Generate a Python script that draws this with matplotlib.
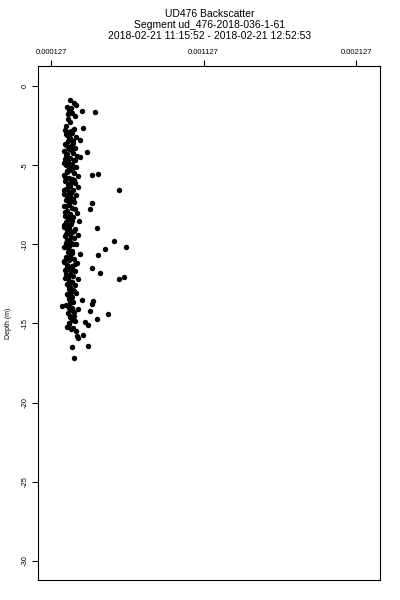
import numpy as np
import matplotlib
matplotlib.use("Agg")
import matplotlib.pyplot as plt

plt.rcParams['font.family'] = ['Liberation Sans', 'DejaVu Sans']

title_lines = ["UD476 Backscatter",
               "Segment ud_476-2018-036-1-61",
               "2018-02-21 11:15:52 - 2018-02-21 12:52:53"]
x_ticks = [0.000127, 0.001127, 0.002127]
x_tick_labels = ["0.000127", "0.001127", "0.002127"]
y_ticks = [0, -5, -10, -15, -20, -25, -30]

# depth (m) and backscatter
depth = [
    -0.9, -1.1, -1.2, -1.3, -1.4, -1.5, -1.6, -1.64, -1.7, -1.8, -1.9, -2.1, -2.3, -2.5, -2.65, -2.7,
    -2.8, -2.9, -3.0, -3.1, -3.2, -3.3, -3.4, -3.5, -3.6, -3.7, -3.8, -3.9, -4.0, -4.1, -4.2, -4.25,
    -4.3, -4.4, -4.5, -4.55, -4.6, -4.7, -4.8, -4.9, -5.0, -5.1, -5.2, -5.3, -5.4, -5.5, -5.55, -5.6,
    -5.65, -5.7, -5.8, -5.9, -6.0, -6.1, -6.2, -6.3, -6.4, -6.5, -6.57, -6.6, -6.7, -6.8, -6.9, -7.0,
    -7.1, -7.2, -7.3, -7.4, -7.5, -7.6, -7.7, -7.8, -7.9, -8.0, -8.1, -8.2, -8.3, -8.4, -8.5, -8.6,
    -8.7, -8.8, -8.9, -9.0, -9.05, -9.1, -9.2, -9.3, -9.4, -9.5, -9.6, -9.7, -9.8, -9.85, -9.9, -10.0,
    -10.1, -10.16, -10.3, -10.2, -10.4, -10.5, -10.6, -10.7, -10.75, -10.8, -10.9, -11.0, -11.1, -11.2,
    -11.3, -11.4, -11.5, -11.55, -11.6, -11.7, -11.8, -11.85, -11.9, -12.0, -12.06, -12.18, -12.1, -12.2,
    -12.3, -12.4, -12.5, -12.6, -12.7, -12.8, -12.9, -13.0, -13.1, -13.2, -13.3, -13.5, -13.6, -13.7,
    -13.8, -13.9, -14.0, -14.05, -14.1, -14.2, -14.3, -14.4, -14.5, -14.6, -14.7, -14.8, -14.9, -15.0,
    -15.1, -15.2, -15.3, -15.5, -15.7, -15.8, -15.9, -16.4, -16.5, -17.2,
    # extra points in the dense column
    -2.85, -3.05, -3.25, -3.45, -3.65, -3.85, -4.05, -4.35, -4.65, -4.85, -5.05, -5.25, -5.45, -5.75,
    -5.95, -6.15, -6.35, -6.55, -6.75, -6.95, -7.15, -7.35, -7.55, -7.75, -7.95, -8.15, -8.35, -8.55,
    -8.75, -8.95, -9.15, -9.35, -9.55, -9.75, -9.95, -10.15, -10.35, -10.55, -10.85, -11.05, -11.25,
    -11.45, -11.65, -11.95, -12.15, -12.35, -12.55, -12.75, -12.95, -13.15, -13.35, -13.45, -13.65,
    -13.85, -14.15, -14.35, -14.55, -14.85, -15.05, -15.35,
]
backscatter = [
    0.000252, 0.000278, 0.000291, 0.000232, 0.000258, 0.000245, 0.000330, 0.000416, 0.000265, 0.000238,
    0.000284, 0.000238, 0.000252, 0.000225, 0.000337, 0.000278,
    0.000219, 0.000245, 0.000265, 0.000232, 0.000291, 0.000252, 0.000317, 0.000238, 0.000271, 0.000225,
    0.000258, 0.000284, 0.000245, 0.000212, 0.000363, 0.000271,
    0.000232, 0.000298, 0.000317, 0.000252, 0.000219, 0.000278, 0.000238, 0.000265, 0.000225, 0.000291,
    0.000245, 0.000258, 0.000232, 0.000278, 0.000435, 0.000396,
    0.000212, 0.000304, 0.000245, 0.000265, 0.000219, 0.000284, 0.000238, 0.000252, 0.000304, 0.000225,
    0.000573, 0.000271, 0.000245, 0.000212, 0.000291, 0.000238,
    0.000258, 0.000225, 0.000278, 0.000396, 0.000245, 0.000212, 0.000265, 0.000383, 0.000232, 0.000298,
    0.000252, 0.000219, 0.000271, 0.000238, 0.000311, 0.000225,
    0.000258, 0.000245, 0.000212, 0.000429, 0.000284, 0.000232, 0.000265, 0.000245, 0.000304, 0.000219,
    0.000278, 0.000238, 0.000540, 0.000252, 0.000225, 0.000291,
    0.000245, 0.000619, 0.000481, 0.000212, 0.000265, 0.000238, 0.000317, 0.000435, 0.000252, 0.000225,
    0.000278, 0.000245, 0.000212, 0.000298,
    0.000232, 0.000265, 0.000396, 0.000245, 0.000219, 0.000284, 0.000448, 0.000252, 0.000225, 0.000271,
    0.000606, 0.000573, 0.000238, 0.000304,
    0.000245, 0.000265, 0.000232, 0.000284, 0.000252, 0.000245, 0.000271, 0.000258, 0.000291, 0.000238,
    0.000265, 0.000330, 0.000402, 0.000252,
    0.000396, 0.000199, 0.000245, 0.000265, 0.000304, 0.000383, 0.000278, 0.000501, 0.000278, 0.000252,
    0.000429, 0.000265, 0.000350, 0.000245,
    0.000370, 0.000232, 0.000271, 0.000291, 0.000337, 0.000298, 0.000304, 0.000370, 0.000265, 0.000278,
    # extra points in the dense column
    0.000258, 0.000225, 0.000245, 0.000271, 0.000219, 0.000238, 0.000258, 0.000225, 0.000284, 0.000212,
    0.000245, 0.000265, 0.000232, 0.000219,
    0.000278, 0.000252, 0.000238, 0.000212, 0.000258, 0.000232, 0.000271, 0.000245, 0.000225, 0.000284,
    0.000219, 0.000252, 0.000238, 0.000265,
    0.000212, 0.000245, 0.000278, 0.000225, 0.000258, 0.000232, 0.000271, 0.000219, 0.000245, 0.000265,
    0.000238, 0.000212, 0.000284,
    0.000232, 0.000271, 0.000245, 0.000219, 0.000265, 0.000238, 0.000252, 0.000278, 0.000232, 0.000258,
    0.000245, 0.000271, 0.000225,
    0.000265, 0.000238, 0.000252, 0.000284, 0.000245, 0.000258,
]

fig = plt.figure(figsize=(4, 6), dpi=100)
ax = fig.add_axes([0.095, 0.0333, 0.855, 0.8567])

ax.plot(backscatter, depth, 'o', color='black', markersize=3.9, markeredgewidth=0)

ax.set_xlim(0.0000418, 0.002284)
ax.set_ylim(-31.2, 1.26)

ax.xaxis.tick_top()
ax.set_xticks(x_ticks)
ax.set_xticklabels(x_tick_labels, fontsize=5.5)
ax.set_yticks(y_ticks)
ax.set_yticklabels([str(v) for v in y_ticks], fontsize=5.5, rotation=90, va='center')
ax.tick_params(axis='both', length=4, width=0.8, direction='out', pad=3)
ax.set_ylabel("Depth (m)", fontsize=5)
ax.yaxis.set_label_coords(-0.075, 0.5)
for sp in ax.spines.values():
    sp.set_linewidth(0.8)

for i, line in enumerate(title_lines):
    fig.text(0.525, 0.985 - i * 0.018, line, ha='center', va='top', fontsize=7.5)

fig.savefig("out.png", dpi=100)
